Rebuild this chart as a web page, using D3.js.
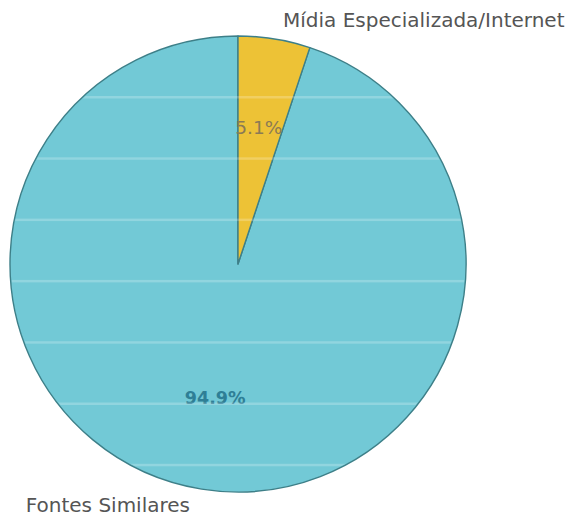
<!DOCTYPE html>
<meta charset="utf-8">
<style>
  body { margin: 0; padding: 0; background: #fff; }
  svg { display: block; }
  text { font-family: "DejaVu Sans", sans-serif; }
</style>
<script src="https://d3js.org/d3.v7.min.js"></script>
<body>
<div id="chart"></div>
<script>
// slice data (matplotlib order: counterclockwise from the top)
var categories = ["Fontes Similares", "Mídia Especializada/Internet"];
var values = [94.9, 5.1];
var pctLabels = ["94.9%", "5.1%"];
var colors = ["#72c9d6", "#edc236"];

var W = 575, H = 516;
var cx = 238, cy = 264, r = 228;

var svg = d3.select("#chart").append("svg")
    .attr("width", W)
    .attr("height", H);

var g = svg.append("g").attr("transform", "translate(" + cx + "," + cy + ")");

// d3 angles run clockwise from 12 o'clock, so go negative to mimic counterclock
var pie = d3.pie().sort(null)
    .startAngle(0)
    .endAngle(-2 * Math.PI)
    .value(function(d) { return d; });

var arcs = pie(values);
var arc = d3.arc().innerRadius(0).outerRadius(r);

g.selectAll("path.slice")
  .data(arcs)
  .enter().append("path")
    .attr("class", "slice")
    .attr("d", arc)
    .attr("fill", function(d, i) { return colors[i]; })
    .attr("stroke", "#3d7f88")
    .attr("stroke-width", 1.4)
    .attr("stroke-linejoin", "round");

// faint scan streaks seen across the pie
svg.append("clipPath").attr("id", "pieclip")
  .append("circle").attr("cx", cx).attr("cy", cy).attr("r", r - 1);
var streaks = svg.append("g").attr("clip-path", "url(#pieclip)");
for (var k = 0; k < 7; k++) {
  streaks.append("rect")
    .attr("x", 0).attr("width", W)
    .attr("y", 96 + k * 61.3).attr("height", 2.5)
    .attr("fill", "#fff").attr("opacity", 0.22);
}

function mid(d) { return (d.startAngle + d.endAngle) / 2; }

// percent labels at 0.6 r
g.selectAll("text.pct")
  .data(arcs)
  .enter().append("text")
    .attr("class", "pct")
    .attr("x", function(d) { return 0.6 * r * Math.sin(mid(d)) - 1; })
    .attr("y", function(d) { return -0.6 * r * Math.cos(mid(d)) - 1; })
    .attr("text-anchor", "middle")
    .attr("dominant-baseline", "central")
    .attr("font-size", function(d, i) { return i === 0 ? 17.5 : 18.5; })
    .attr("font-weight", function(d, i) { return i === 0 ? "bold" : "normal"; })
    .attr("fill", function(d, i) { return i === 0 ? "#2e7f96" : "#8a7a55"; })
    .text(function(d, i) { return pctLabels[i]; });

// category labels at 1.1 r
g.selectAll("text.cat")
  .data(arcs)
  .enter().append("text")
    .attr("class", "cat")
    .attr("x", function(d) { var s = Math.sin(mid(d)); return 1.1 * r * s + (s < 0 ? -8 : 5); })
    .attr("y", function(d) { var c = Math.cos(mid(d)); return -1.1 * r * c + (c < 0 ? -7 : 4); })
    .attr("text-anchor", function(d) { return Math.sin(mid(d)) < 0 ? "end" : "start"; })
    .attr("dominant-baseline", "central")
    .attr("font-size", 20)
    .attr("fill", "#555")
    .text(function(d, i) { return categories[i]; });
</script>
</body>
